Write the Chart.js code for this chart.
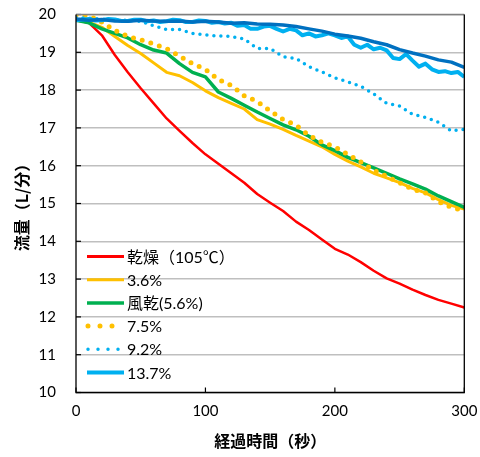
<!DOCTYPE html>
<html><head><meta charset="utf-8">
<script src="https://cdn.jsdelivr.net/npm/chart.js@4/dist/chart.umd.min.js"></script>
<style>html,body{margin:0;padding:0;background:#fff}#wrap{width:480px;height:457px}</style>
</head><body><div id="wrap"><canvas id="c" width="480" height="457"></canvas></div>
<script>
const time10 = [0,10,20,30,40,50,60,70,80,90,100,110,120,130,140,150,160,170,180,190,200,210,220,230,240,250,260,270,280,290,300];
const time5 = [0,5,10,15,20,25,30,35,40,45,50,55,60,65,70,75,80,85,90,95,100,105,110,115,120,125,130,135,140,145,150,155,160,165,170,175,180,185,190,195,200,205,210,215,220,225,230,235,240,245,250,255,260,265,270,275,280,285,290,295,300];

const labels = ['乾燥（105℃）','3.6%','風乾(5.6%)','7.5%','9.2%','13.7%',''];

const dry105 = [19.85,19.78,19.45,18.93,18.47,18.05,17.65,17.25,16.92,16.6,16.3,16.05,15.8,15.55,15.25,15.02,14.8,14.52,14.3,14.05,13.8,13.65,13.45,13.22,13.02,12.88,12.72,12.58,12.45,12.35,12.25];
const m36 = [19.85,19.8,19.66,19.42,19.18,18.97,18.72,18.47,18.38,18.2,17.98,17.8,17.65,17.5,17.22,17.1,16.96,16.8,16.65,16.5,16.3,16.12,15.97,15.8,15.68,15.55,15.4,15.28,15.1,14.95,14.85];
const air56 = [19.85,19.78,19.62,19.5,19.38,19.2,19.06,18.98,18.7,18.47,18.35,17.95,17.78,17.6,17.42,17.25,17.08,16.95,16.78,16.55,16.4,16.22,16.08,15.94,15.8,15.65,15.52,15.38,15.2,15.05,14.9];
const m75 = [19.98,19.97,19.8,19.58,19.42,19.33,19.22,19.1,18.9,18.7,18.55,18.28,18.12,17.85,17.7,17.45,17.22,17.07,16.8,16.62,16.5,16.3,16.1,15.88,15.72,15.55,15.38,15.28,15.05,14.9,14.8];
const m92 = [19.92,19.9,19.88,19.85,19.85,19.82,19.7,19.6,19.6,19.5,19.46,19.43,19.42,19.35,19.1,19.1,18.88,18.84,18.62,18.48,18.32,18.22,18.1,17.9,17.65,17.58,17.36,17.28,17.15,16.92,16.96];
const m137 = [19.85,19.87,19.88,19.84,19.85,19.88,19.87,19.83,19.83,19.86,19.86,19.82,19.84,19.8,19.82,19.86,19.85,19.8,19.8,19.84,19.83,19.78,19.8,19.76,19.78,19.7,19.72,19.62,19.62,19.68,19.7,19.62,19.55,19.62,19.58,19.45,19.5,19.42,19.45,19.5,19.45,19.38,19.42,19.2,19.12,19.2,19.08,19.12,19.05,18.85,18.82,18.95,18.78,18.62,18.7,18.55,18.48,18.5,18.45,18.48,18.35];
const darkBlue = [19.88,19.85,19.87,19.83,19.82,19.85,19.83,19.82,19.83,19.8,19.82,19.8,19.77,19.78,19.75,19.74,19.72,19.68,19.62,19.56,19.48,19.43,19.37,19.28,19.2,19.07,18.98,18.9,18.8,18.74,18.6];

const yTicks = [10,11,12,13,14,15,16,17,18,19,20];
const xTicks = [0,100,200,300];

function pts(t, v){ return v.map((y,i)=>({x:t[i], y})); }

const series = [
  {label:labels[0], data:pts(time10,dry105), color:'#FF0000', width:2.5, dash:null},
  {label:labels[1], data:pts(time10,m36), color:'#FFC000', width:3, dash:null},
  {label:labels[2], data:pts(time10,air56), color:'#00B050', width:3.5, dash:null},
  {label:labels[3], data:pts(time10,m75), color:'#FFC000', width:5, dash:[0,9]},
  {label:labels[4], data:pts(time10,m92), color:'#00B0F0', width:3.5, dash:[0,7]},
  {label:labels[5], data:pts(time5,m137), color:'#00B0F0', width:4, dash:null},
  {label:labels[6], data:pts(time10,darkBlue), color:'#0070C0', width:3.5, dash:null}
];
const N = series.length;
const datasets = series.map((s,i)=>({
  label:s.label, data:s.data, borderColor:s.color, backgroundColor:s.color,
  borderWidth:s.width, borderDash:s.dash||[], borderCapStyle:s.dash?'round':'butt',
  borderJoinStyle:'round', pointRadius:0, tension:0, fill:false, order:N-i
}));

const FONT = 'Lato, "Noto Sans CJK JP", sans-serif';

const decor = {
  id:'decor',
  afterDatasetsDraw(chart){
    const {ctx, chartArea:a, scales:{x,y}} = chart;
    ctx.save();
    ctx.strokeStyle='#000'; ctx.lineWidth=1.2;
    yTicks.forEach(v=>{const py=y.getPixelForValue(v); ctx.beginPath(); ctx.moveTo(a.left,py); ctx.lineTo(a.left+5,py); ctx.stroke();});
    xTicks.forEach(v=>{const px=x.getPixelForValue(v); ctx.beginPath(); ctx.moveTo(px,a.bottom); ctx.lineTo(px,a.bottom-5); ctx.stroke();});
    ctx.strokeStyle='#7f7f7f'; ctx.lineWidth=1.3;
    ctx.beginPath(); ctx.moveTo(a.left,a.top); ctx.lineTo(a.right,a.top); ctx.stroke();
    ctx.strokeStyle='#000';
    ctx.beginPath(); ctx.moveTo(a.left,a.top); ctx.lineTo(a.left,a.bottom); ctx.lineTo(a.right,a.bottom); ctx.lineTo(a.right,a.top); ctx.stroke();
    const x0=a.left+11, x1=a.left+48, tx=a.left+51;
    let ry=256.5;
    chart.data.datasets.forEach(ds=>{
      if(!ds.label) return;
      const dotted = ds.borderDash.length>0;
      ctx.strokeStyle=ds.borderColor;
      ctx.lineWidth=dotted?ds.borderWidth:Math.max(3, ds.borderWidth);
      ctx.setLineDash(dotted?[0, ds.borderDash[1]+3]:[]);
      ctx.lineCap=dotted?'round':'butt';
      ctx.beginPath(); ctx.moveTo(x0+(dotted?1:0),ry); ctx.lineTo(x1,ry); ctx.stroke();
      ctx.setLineDash([]);
      ctx.fillStyle='#000'; ctx.font='16px '+FONT; ctx.textBaseline='middle'; ctx.textAlign='left';
      ctx.fillText(ds.label, tx, ry+1);
      ry+=23.2;
    });
    ctx.restore();
  }
};

new Chart(document.getElementById('c'), {
  type:'line',
  data:{datasets},
  options:{
    responsive:false, animation:false, devicePixelRatio:1,
    layout:{padding:{left:0,right:15.7,top:14.5,bottom:0}},
    plugins:{legend:{display:false}, tooltip:{enabled:false}},
    scales:{
      x:{type:'linear', min:0, max:300,
        afterBuildTicks(s){ s.ticks = xTicks.map(v=>({value:v})); },
        afterFit(s){ s.height = 64.5; s.paddingLeft = 0; s.paddingRight = 0; },
        grid:{display:false, drawTicks:false},
        border:{display:false},
        ticks:{padding:10, color:'#000', font:{family:FONT, size:15}, maxRotation:0},
        title:{display:true, text:'経過時間（秒）', color:'#000', font:{family:'"Noto Sans CJK JP"', size:16, weight:'bold'}, padding:{top:0,bottom:6}}
      },
      y:{type:'linear', min:10, max:20,
        afterBuildTicks(s){ s.ticks = yTicks.map(v=>({value:v})); },
        afterFit(s){ s.width = 76; s.paddingTop = 0; s.paddingBottom = 0; },
        grid:{color:'#BFBFBF', lineWidth:1.5, drawTicks:false},
        border:{display:false},
        ticks:{padding:20, color:'#000', font:{family:FONT, size:15}},
        title:{display:true, text:'流量（L/分）', color:'#000', font:{family:'"Noto Sans CJK JP"', size:16, weight:'bold'}, padding:{top:12,bottom:0}}
      }
    }
  },
  plugins:[decor]
});
</script></body></html>
